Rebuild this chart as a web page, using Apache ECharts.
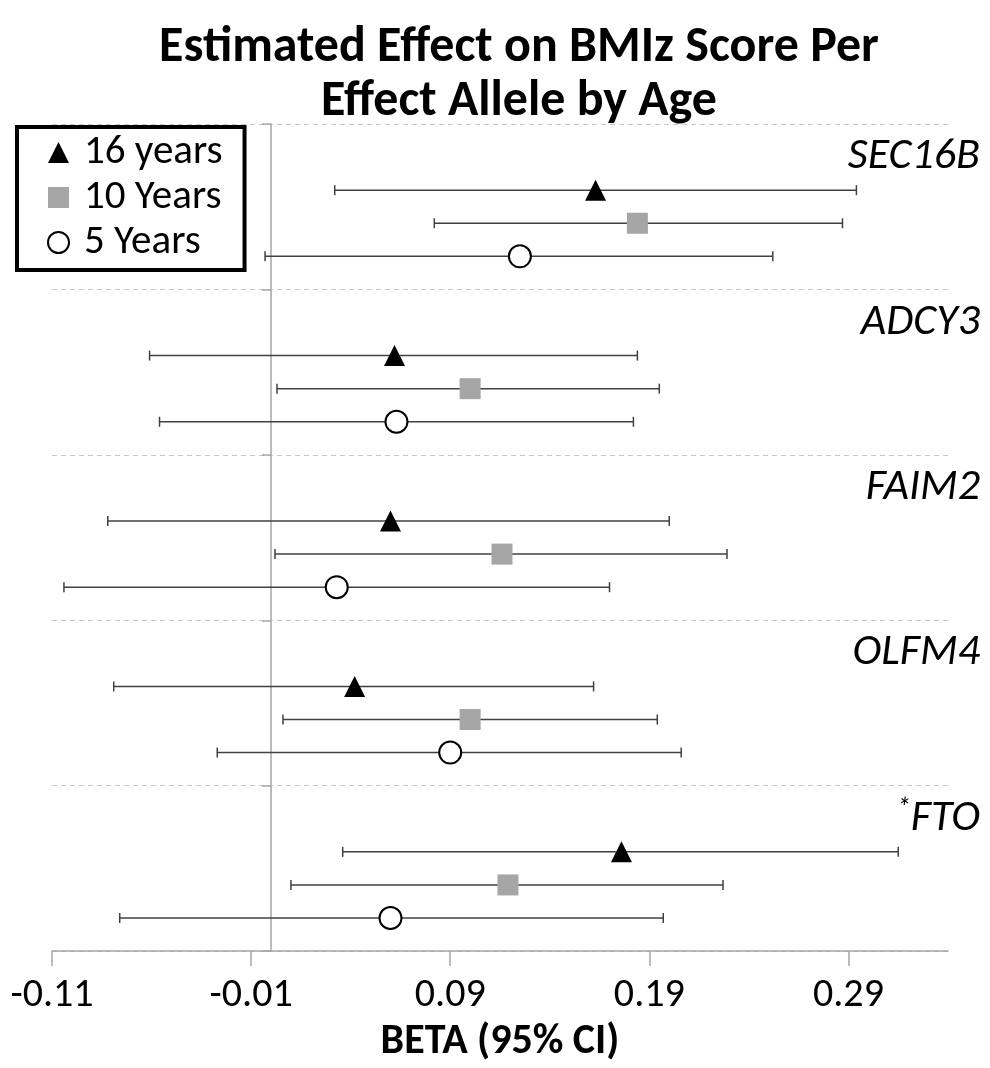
<!DOCTYPE html>
<html>
<head>
<meta charset="utf-8">
<script src="https://cdn.jsdelivr.net/npm/echarts@6/dist/echarts.min.js"></script>
<style>
  html, body { margin: 0; background: #fff; }
  #chart { width: 990px; height: 1068px; }
</style>
</head>
<body>
<div id="chart"></div>
<script>
// genes top to bottom, star marks the flagged one
const genes = ["SEC16B", "ADCY3", "FAIM2", "OLFM4", "FTO"];
const starred = [false, false, false, false, true];
const ageNames = ["16 years", "10 Years", "5 Years"];

// beta and 95% CI per gene, in gene order
const beta16 = [0.163, 0.062, 0.060, 0.042, 0.176];
const lower16 = [0.032, -0.061, -0.082, -0.079, 0.036];
const upper16 = [0.294, 0.184, 0.200, 0.162, 0.315];

const beta10 = [0.184, 0.100, 0.116, 0.100, 0.119];
const lower10 = [0.082, 0.003, 0.002, 0.006, 0.010];
const upper10 = [0.287, 0.195, 0.229, 0.194, 0.227];

const beta5 = [0.125, 0.063, 0.033, 0.090, 0.060];
const lower5 = [-0.003, -0.056, -0.104, -0.027, -0.076];
const upper5 = [0.252, 0.182, 0.170, 0.206, 0.197];

const xTicks = [-0.11, -0.01, 0.09, 0.19, 0.29];

const FONT = "Carlito, Lato, sans-serif";
const ROWS_PER_GENE = 5;

// row on the y axis: label row first, then one row per age group
function rowOf(g, a) {
  return g * ROWS_PER_GENE + 2 + a;
}

const betas = [beta16, beta10, beta5];
const lowers = [lower16, lower10, lower5];
const uppers = [upper16, upper10, upper5];

let barData = [];
for (let a = 0; a < 3; a++) {
  for (let g = 0; g < genes.length; g++) {
    barData.push([lowers[a][g], uppers[a][g], rowOf(g, a)]);
  }
}

function pointData(a) {
  return genes.map(function (name, g) {
    return [betas[a][g], rowOf(g, a)];
  });
}

const labelData = genes.map(function (name, g) {
  return [g * ROWS_PER_GENE + 1, name, starred[g] ? 1 : 0];
});

const myChart = echarts.init(document.getElementById("chart"));

const option = {
  animation: false,
  textStyle: { fontFamily: FONT },
  title: {
    text: "Estimated Effect on BMIz Score Per\nEffect Allele by Age",
    left: 514,
    textAlign: "center",
    top: 16,
    textStyle: {
      fontFamily: FONT,
      fontSize: 50,
      fontWeight: "bold",
      lineHeight: 54,
      color: "#000"
    }
  },
  legend: {
    data: ageNames,
    orient: "vertical",
    left: 17,
    top: 127,
    backgroundColor: "#fff",
    borderColor: "#000",
    borderWidth: 4,
    borderRadius: 0,
    padding: [5, 22, 7, 30],
    itemWidth: 21,
    itemHeight: 21,
    itemGap: 4,
    textStyle: { fontFamily: FONT, fontSize: 41, color: "#000", padding: [0, 0, 0, 10] },
    z: 10
  },
  grid: { left: 52, right: 42, top: 124, bottom: 116 },
  xAxis: {
    type: "value",
    min: -0.11,
    max: 0.34,
    interval: 0.1,
    name: "BETA (95% CI)",
    nameLocation: "middle",
    nameGap: 68,
    nameTextStyle: { fontFamily: FONT, fontSize: 42, fontWeight: "bold", color: "#000" },
    axisLine: { onZero: false, lineStyle: { color: "#a6a6a6", width: 1.5 } },
    axisTick: { length: 15, customValues: xTicks, lineStyle: { color: "#a6a6a6", width: 1.5 } },
    axisLabel: {
      customValues: xTicks,
      margin: 25,
      fontSize: 40,
      color: "#000",
      formatter: function (v) { return v.toFixed(2); }
    },
    splitLine: { show: false }
  },
  yAxis: {
    type: "value",
    min: 0,
    max: 25,
    interval: 5,
    inverse: true,
    axisLine: { show: true, onZero: true, lineStyle: { color: "#a6a6a6", width: 1.5 } },
    axisTick: { show: true, length: 9, lineStyle: { color: "#a6a6a6", width: 1.5 } },
    axisLabel: { show: false },
    splitLine: { show: true, lineStyle: { color: "#c8c8c8", type: [5, 4], width: 1.2 } }
  },
  series: [
    {
      name: "CI",
      type: "custom",
      data: barData,
      encode: { x: [0, 1], y: 2 },
      z: 2,
      renderItem: function (params, api) {
        const p1 = api.coord([api.value(0), api.value(2)]);
        const p2 = api.coord([api.value(1), api.value(2)]);
        const h = 5;
        const style = { stroke: "#404040", lineWidth: 1.5 };
        return {
          type: "group",
          children: [
            { type: "line", shape: { x1: p1[0], y1: p1[1], x2: p2[0], y2: p2[1] }, style: style },
            { type: "line", shape: { x1: p1[0], y1: p1[1] - h, x2: p1[0], y2: p1[1] + h }, style: style },
            { type: "line", shape: { x1: p2[0], y1: p2[1] - h, x2: p2[0], y2: p2[1] + h }, style: style }
          ]
        };
      }
    },
    {
      name: "genes",
      type: "custom",
      data: labelData,
      encode: { y: 0 },
      z: 3,
      renderItem: function (params, api) {
        const cs = params.coordSys;
        const p = api.coord([0, api.value(0)]);
        const name = labelData[params.dataIndex][1];
        const star = labelData[params.dataIndex][2];
        return {
          type: "text",
          x: cs.x + cs.width + 32,
          y: p[1],
          style: {
            text: star ? "{s|*}{g|" + name + "}" : "{g|" + name + "}",
            align: "right",
            verticalAlign: "middle",
            rich: {
              g: { fontFamily: FONT, fontStyle: "italic", fontSize: 44, color: "#000" },
              s: { fontFamily: FONT, fontStyle: "italic", fontSize: 28, color: "#000", verticalAlign: "top", padding: [0, 0, 18, 0] }
            }
          }
        };
      }
    },
    {
      name: ageNames[0],
      type: "scatter",
      data: pointData(0),
      symbol: "triangle",
      symbolSize: 21,
      itemStyle: { color: "#000", opacity: 1 },
      z: 5
    },
    {
      name: ageNames[1],
      type: "scatter",
      data: pointData(1),
      symbol: "rect",
      symbolSize: 21,
      itemStyle: { color: "#a6a6a6", opacity: 1 },
      z: 5
    },
    {
      name: ageNames[2],
      type: "scatter",
      data: pointData(2),
      symbol: "circle",
      symbolSize: 22,
      itemStyle: { color: "#fff", borderColor: "#000", borderWidth: 2, opacity: 1 },
      z: 5
    }
  ]
};

myChart.setOption(option);
</script>
</body>
</html>
